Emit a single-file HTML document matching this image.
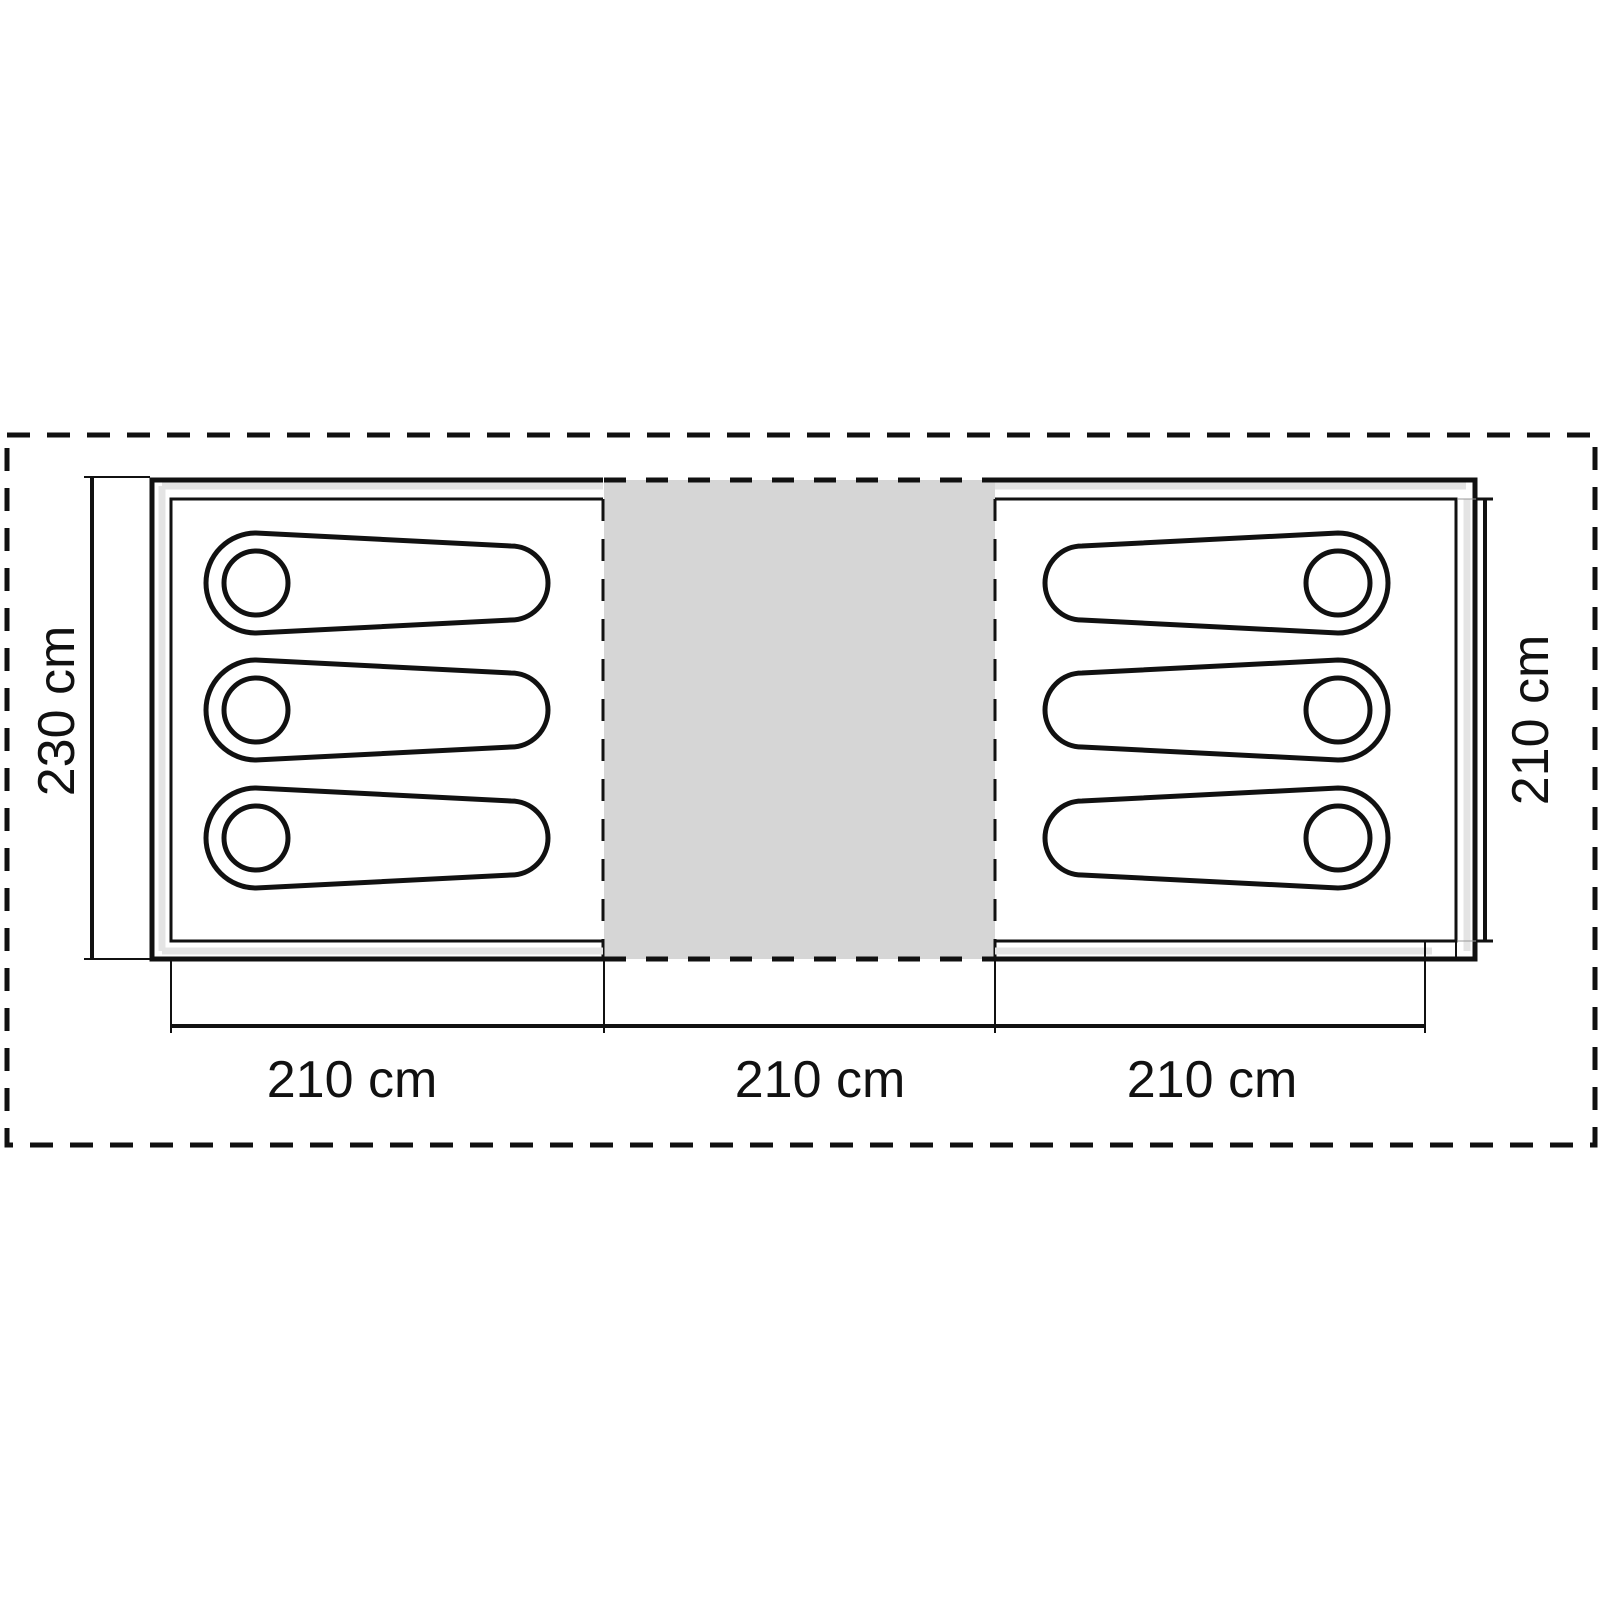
<!DOCTYPE html>
<html><head><meta charset="utf-8"><style>
html,body{margin:0;padding:0;background:#fff;}
svg{display:block}
text{font-family:"Liberation Sans",sans-serif;font-size:52px;fill:#111}
</style></head><body>
<svg width="1600" height="1600" viewBox="0 0 1600 1600" xmlns="http://www.w3.org/2000/svg">
<rect x="7" y="435" width="1588" height="710" fill="none" stroke="#111" stroke-width="5" stroke-dasharray="23,17"/>
<rect x="604" y="480" width="391" height="479" fill="#d6d6d6"/>
<line x1="604" y1="480" x2="995" y2="480" stroke="#111" stroke-width="5" stroke-dasharray="22,20"/>
<line x1="604" y1="959" x2="995" y2="959" stroke="#111" stroke-width="5" stroke-dasharray="22,20"/>
<line x1="603" y1="499" x2="603" y2="959" stroke="#111" stroke-width="3" stroke-dasharray="22,18"/>
<line x1="995" y1="499" x2="995" y2="959" stroke="#111" stroke-width="3" stroke-dasharray="22,18"/>
<path d="M162 486 H603 M162 486 V951 M162 951 H603" fill="none" stroke="#e4e4e4" stroke-width="7"/>
<path d="M995 486 H1466 M1467 499 V951 M995 951 H1432" fill="none" stroke="#e4e4e4" stroke-width="7"/>
<path d="M603 480 H152 V959 H603" fill="none" stroke="#111" stroke-width="5"/>
<path d="M603 499 H171 V941 H603" fill="none" stroke="#111" stroke-width="3"/>
<path d="M995 480 H1475 V959 H995" fill="none" stroke="#111" stroke-width="5"/>
<path d="M995 499 H1456 V941 H995" fill="none" stroke="#111" stroke-width="3"/>
<line x1="1456" y1="941" x2="1456" y2="959" stroke="#111" stroke-width="2"/>
<g fill="none" stroke="#111" stroke-width="5">
<g id="lb">
<path d="M256 533 L511 546 A37 37 0 0 1 511 620 L256 633 A50 50 0 0 1 256 533 Z"/>
<circle cx="256" cy="583" r="32"/>
</g>
<use href="#lb" y="127"/>
<use href="#lb" y="255"/>
<g id="rb">
<path d="M1338 533 L1082 546 A37 37 0 0 0 1082 620 L1338 633 A50 50 0 0 0 1338 533 Z"/>
<circle cx="1338" cy="583" r="32"/>
</g>
<use href="#rb" y="127"/>
<use href="#rb" y="255"/>
</g>
<g stroke="#111">
<line x1="92" y1="477" x2="92" y2="959" stroke-width="4"/>
<line x1="84" y1="477" x2="150" y2="477" stroke-width="2"/>
<line x1="84" y1="959" x2="150" y2="959" stroke-width="2"/>
<line x1="1485" y1="499" x2="1485" y2="941" stroke-width="4"/>
<line x1="1475" y1="499" x2="1493" y2="499" stroke-width="3"/>
<line x1="1475" y1="941" x2="1493" y2="941" stroke-width="3"/>
<line x1="1458" y1="499" x2="1476" y2="499" stroke-width="1" stroke="#999"/>
<line x1="1458" y1="941" x2="1476" y2="941" stroke-width="1" stroke="#999"/>
<line x1="171" y1="1026" x2="1425" y2="1026" stroke-width="4"/>
<line x1="171" y1="959" x2="171" y2="1033" stroke-width="2"/>
<line x1="604" y1="959" x2="604" y2="1033" stroke-width="2"/>
<line x1="995" y1="959" x2="995" y2="1033" stroke-width="2"/>
<line x1="1425" y1="941" x2="1425" y2="1033" stroke-width="2"/>
</g>
<text x="352" y="1097" text-anchor="middle">210 cm</text>
<text x="820" y="1097" text-anchor="middle">210 cm</text>
<text x="1212" y="1097" text-anchor="middle">210 cm</text>
<text transform="translate(74,711) rotate(-90)" text-anchor="middle">230 cm</text>
<text transform="translate(1548,720) rotate(-90)" text-anchor="middle">210 cm</text>
</svg>
</body></html>
